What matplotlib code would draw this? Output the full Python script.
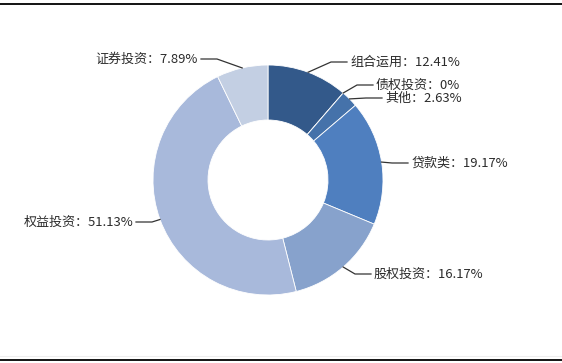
import numpy as np
import matplotlib
matplotlib.use('Agg')
import matplotlib.pyplot as plt
from matplotlib.lines import Line2D

plt.rcParams['font.family'] = ['Noto Sans CJK SC', 'DejaVu Sans']

names = ['组合运用', '债权投资', '其他', '贷款类', '股权投资', '权益投资', '证券投资']
shares = [12.41, 0, 2.63, 19.17, 16.17, 51.13, 7.89]
colors = ['#33598a', '#3d6aa0', '#4572aa', '#4f7fbf', '#87a2cc', '#a8b9db', '#c3cfe3']

# label text anchors (pixels from top-left)
label_pos = [(350, 62), (376, 85), (385, 98), (411, 163), (374, 274), (133, 222), (198, 59)]

W, H = 562, 363
fig = plt.figure(figsize=(W / 100, H / 100), dpi=100)
ax = fig.add_axes([0, 0, 1, 1])

cx, cy, R = 268, H - 180, 115
wedges, _ = ax.pie(shares, colors=colors, startangle=90, counterclock=False,
                   center=(cx, cy), radius=R, frame=True,
                   wedgeprops=dict(width=55, edgecolor='white', linewidth=0.6))
ax.set_xlim(0, W)
ax.set_ylim(0, H)
ax.set_aspect('equal')
ax.axis('off')

for w, name, val, (tx, ty) in zip(wedges, names, shares, label_pos):
    mid = np.deg2rad((w.theta1 + w.theta2) / 2)
    ex, ey = cx + R * np.cos(mid), cy + R * np.sin(mid)
    ty = H - ty
    side = 1 if ex >= cx else -1
    elbow = (tx - side * 19, ty)
    end = (tx - side * 3, ty)
    ax.plot([ex, elbow[0], end[0]], [ey, elbow[1], end[1]], color='#333333', lw=0.9)
    txt = '{}：{:g}%'.format(name, val)
    ax.text(tx, ty, txt, ha='left' if side > 0 else 'right', va='center',
            fontsize=9.4, color='#2b2b2b')

# frame lines top and bottom
fig.add_artist(Line2D([0, 1], [1 - 3.5 / H, 1 - 3.5 / H], color='black', lw=1.3))
fig.add_artist(Line2D([0, 1], [1 - 356 / H, 1 - 356 / H], color='#eeeeee', lw=0.8))
fig.add_artist(Line2D([0, 1], [1 - 359.5 / H, 1 - 359.5 / H], color='black', lw=1.3))

fig.savefig('out.png', dpi=100)
